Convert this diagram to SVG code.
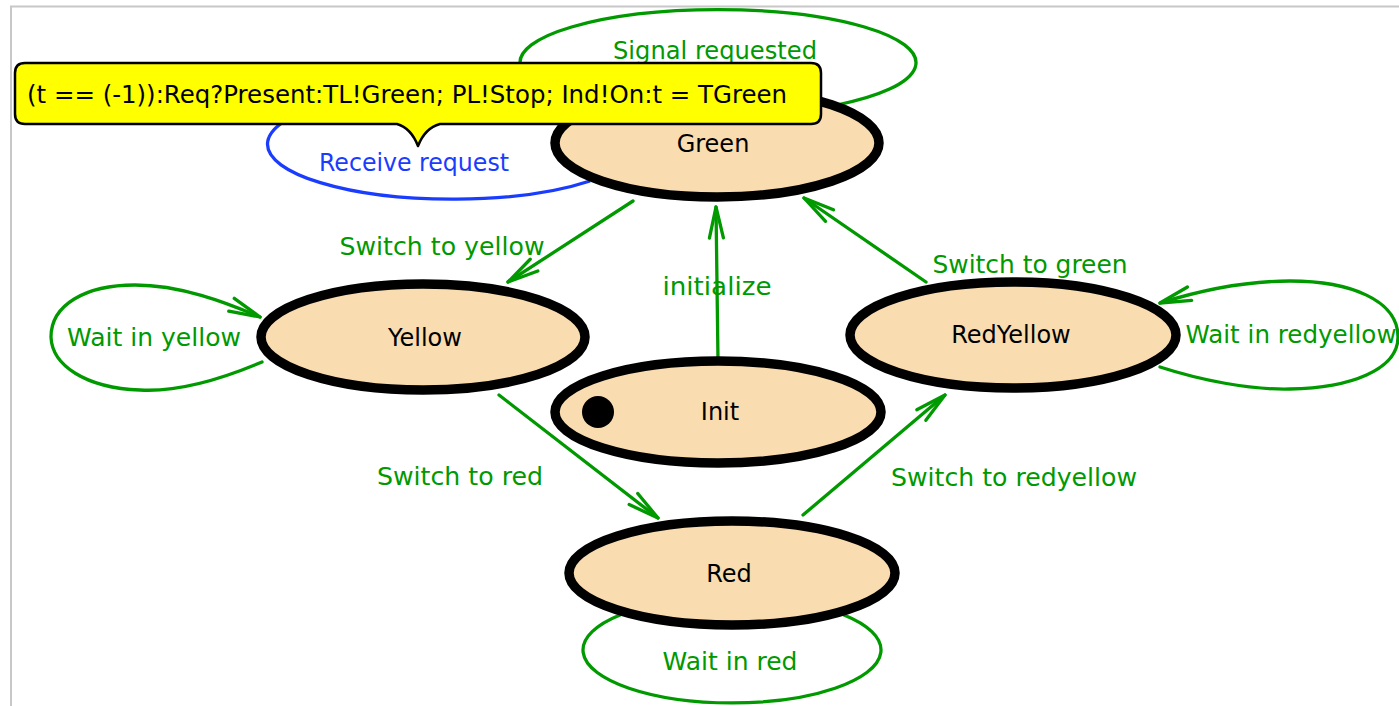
<svg xmlns="http://www.w3.org/2000/svg" width="1399" height="706" viewBox="0 0 1399 706">
  <defs>
    <style>
      .frame { stroke: #c8c8c8; stroke-width: 2; fill: none; }
      .edge { stroke: #009900; stroke-width: 3.3; fill: none; stroke-linecap: round; }
      .edge-blue { stroke: #1a3cff; stroke-width: 3.3; fill: none; }
      .elabel { font-family: "DejaVu Sans", "Liberation Sans", sans-serif; font-size: 25px; fill: #009900; text-anchor: middle; }
      .elabel-blue { font-family: "DejaVu Sans", "Liberation Sans", sans-serif; font-size: 25px; fill: #1a3cff; text-anchor: middle; }
      .state { fill: #f9dcb0; stroke: #000000; stroke-width: 9.5; }
      .slabel { font-family: "DejaVu Sans", "Liberation Sans", sans-serif; font-size: 24px; fill: #000000; text-anchor: middle; }
      .tip { fill: #ffff00; stroke: #000000; stroke-width: 2.5; stroke-linejoin: round; }
      .tiptext { font-family: "DejaVu Sans", "Liberation Sans", sans-serif; font-size: 25px; fill: #000000; }
    </style>
    <marker id="arrow" markerUnits="userSpaceOnUse" markerWidth="40" markerHeight="40" refX="0" refY="0" orient="auto" style="overflow:visible">
      <path d="M-31,-7 L0,0 L-31,7" fill="none" stroke="#009900" stroke-width="3.3" stroke-linecap="round" stroke-linejoin="round"/>
    </marker>
  </defs>

  <rect x="0" y="0" width="1399" height="706" fill="#ffffff"/>
  <!-- canvas frame -->
  <path class="frame" d="M11,706 V6.5 H1399"/>

  <!-- transitions -->
  <g id="connectors">
    <path class="edge" d="M837,105 A198,53 0 1 0 599,105"/>
    <path class="edge-blue" d="M590,181 A185,55 0 1 1 600,111"/>
    <path class="edge" d="M633,201 L508,282" marker-end="url(#arrow)"/>
    <path class="edge" d="M718,360 L716,207" marker-end="url(#arrow)"/>
    <path class="edge" d="M926,282 L804,198" marker-end="url(#arrow)"/>
    <path class="edge" d="M499,395 L658,518" marker-end="url(#arrow)"/>
    <path class="edge" d="M803,515 L945,395" marker-end="url(#arrow)"/>
    <path class="edge" d="M262,362 C215,382 175,392 140,390 C85,388 52,365 51,337 C51,305 85,285 135,285 C180,285 225,302 260,317" marker-end="url(#arrow)"/>
    <path class="edge" d="M1160,367 C1200,380 1250,390 1290,389 C1350,388 1398,370 1398,337 C1398,300 1350,281 1290,281 C1240,281 1195,292 1160,303" marker-end="url(#arrow)"/>
    <path class="edge" d="M620,615 A149,53 0 1 0 844,615"/>

    <text class="elabel" x="715" y="59" textLength="204" lengthAdjust="spacingAndGlyphs">Signal requested</text>
    <text class="elabel-blue" x="414" y="171" textLength="190" lengthAdjust="spacingAndGlyphs">Receive request</text>
    <text class="elabel" x="442" y="255" textLength="205" lengthAdjust="spacingAndGlyphs">Switch to yellow</text>
    <text class="elabel" x="717" y="295" textLength="109" lengthAdjust="spacingAndGlyphs">initialize</text>
    <text class="elabel" x="1030" y="273" textLength="195" lengthAdjust="spacingAndGlyphs">Switch to green</text>
    <text class="elabel" x="154" y="346" textLength="174" lengthAdjust="spacingAndGlyphs">Wait in yellow</text>
    <text class="elabel" x="1291" y="343" textLength="211" lengthAdjust="spacingAndGlyphs">Wait in redyellow</text>
    <text class="elabel" x="460" y="485" textLength="166" lengthAdjust="spacingAndGlyphs">Switch to red</text>
    <text class="elabel" x="1014" y="486" textLength="246" lengthAdjust="spacingAndGlyphs">Switch to redyellow</text>
    <text class="elabel" x="730" y="670" textLength="135" lengthAdjust="spacingAndGlyphs">Wait in red</text>
  </g>

  <!-- states -->
  <g id="state-green">
    <ellipse class="state" cx="717" cy="143" rx="162" ry="54"/>
    <text class="slabel" x="713" y="152">Green</text>
  </g>
  <g id="state-yellow">
    <ellipse class="state" cx="423" cy="337" rx="162" ry="53"/>
    <text class="slabel" x="425" y="346">Yellow</text>
  </g>
  <g id="state-redyellow">
    <ellipse class="state" cx="1013" cy="335" rx="163" ry="53"/>
    <text class="slabel" x="1011" y="343">RedYellow</text>
  </g>
  <g id="state-init">
    <ellipse class="state" cx="718" cy="412" rx="163" ry="51"/>
    <circle cx="598" cy="412" r="16" fill="#000000"/>
    <text class="slabel" x="720" y="420">Init</text>
  </g>
  <g id="state-red">
    <ellipse class="state" cx="732" cy="573" rx="163" ry="52"/>
    <text class="slabel" x="729" y="582">Red</text>
  </g>

  <!-- hover tooltip for the Receive request transition -->
  <g id="tooltip">
    <path class="tip" d="M25,63 H811 Q821,63 821,73 V114 Q821,124 811,124 H440 Q425,128 418,146 Q411,128 397,124 H25 Q15,124 15,114 V73 Q15,63 25,63 Z"/>
    <text class="tiptext" x="27" y="103" textLength="760" lengthAdjust="spacingAndGlyphs">(t == (-1)):Req?Present:TL!Green; PL!Stop; Ind!On:t = TGreen</text>
  </g>
</svg>
